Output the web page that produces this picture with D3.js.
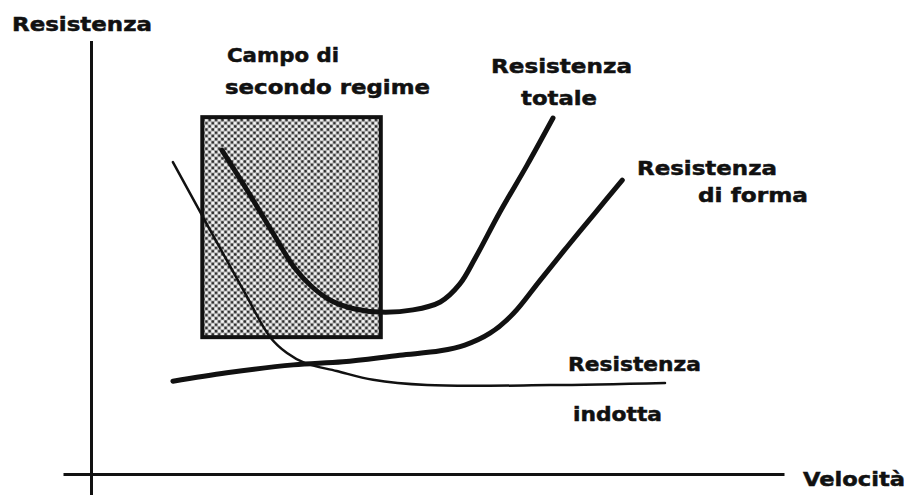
<!DOCTYPE html>
<html>
<head>
<meta charset="utf-8">
<script src="https://cdn.jsdelivr.net/npm/d3@7"></script>
<style>
  html, body { margin: 0; padding: 0; background: #fff; }
  svg { display: block; }
  text { font-family: "DejaVu Sans", sans-serif; font-weight: bold; fill: #111; stroke: #111; stroke-width: 0.5; }
</style>
</head>
<body>
<svg id="chart" width="909" height="495"></svg>
<script>
// ---- Data (schematic: velocity vs resistance, arbitrary units) ----
const inducedVel = [11.7, 17.0, 22.0, 25.6, 28.0, 30.6, 35.1, 40.3, 48.0, 65.6, 82.0];
const inducedRes = [70.9, 55.5, 41.1, 31.1, 27.5, 25.2, 23.4, 21.4, 20.2, 20.2, 20.7];

const formVel = [11.7, 19.4, 28.9, 36.0, 44.1, 49.9, 53.4, 57.0, 60.3, 64.1, 68.0, 72.0, 75.9];
const formRes = [21.1, 23.0, 24.8, 25.5, 27.0, 28.0, 29.3, 32.0, 36.4, 43.9, 51.6, 59.3, 66.8];

const totalVel = [18.7, 22.3, 25.9, 29.1, 31.6, 34.4, 37.7, 41.3, 46.0, 49.9, 52.7, 54.9, 58.4, 62.3, 66.0];
const totalRes = [73.6, 64.5, 55.0, 46.8, 42.5, 39.3, 37.5, 36.8, 37.3, 39.1, 43.2, 49.1, 59.5, 70.2, 80.9];

// second-regime field (velocity range, resistance range)
const regimeVel = [15.9, 41.4];
const regimeRes = [31.1, 81.1];

// texts
const axisTitles = ["Resistenza", "Velocità"];
const regimeLabel = ["Campo di", "secondo regime"];
const totalLabel = ["Resistenza", "totale"];
const formLabel = ["Resistenza", "di forma"];
const inducedLabel = ["Resistenza", "indotta"];

// ---- Drawing ----
const svg = d3.select("#chart");
const x = d3.scaleLinear().domain([-4, 99]).range([63, 784]);
const y = d3.scaleLinear().domain([-5, 98.5]).range([496, 40.6]);

// halftone pattern
const defs = svg.append("defs");
const pat = defs.append("pattern")
  .attr("id", "dots").attr("patternUnits", "userSpaceOnUse")
  .attr("width", 6.4).attr("height", 6.4);
pat.append("rect").attr("width", 6.4).attr("height", 6.4).attr("fill", "#aaaaaa");
[[1.6, 1.6], [4.8, 4.8]].forEach(([cx, cy]) =>
  pat.append("circle").attr("cx", cx).attr("cy", cy).attr("r", 1.35).attr("fill", "#2a2a2a"));
[[4.8, 1.6], [1.6, 4.8]].forEach(([cx, cy]) =>
  pat.append("circle").attr("cx", cx).attr("cy", cy).attr("r", 1.6).attr("fill", "#f6f6f6"));

// axes (no ticks, crossing lines)
const xAxis = d3.axisBottom(x).tickValues([]).tickSizeOuter(0);
const yAxis = d3.axisLeft(y).tickValues([]).tickSizeOuter(0);
svg.append("g").attr("transform", `translate(0,${y(0)})`).call(xAxis)
  .select(".domain").attr("stroke", "#111").attr("stroke-width", 3);
svg.append("g").attr("transform", `translate(${x(0)},0)`).call(yAxis)
  .select(".domain").attr("stroke", "#111").attr("stroke-width", 3);

// regime box
svg.append("rect")
  .attr("x", x(regimeVel[0])).attr("y", y(regimeRes[1]))
  .attr("width", x(regimeVel[1]) - x(regimeVel[0]))
  .attr("height", y(regimeRes[0]) - y(regimeRes[1]))
  .attr("fill", "url(#dots)").attr("stroke", "#111").attr("stroke-width", 4);

const line = d3.line().x(d => x(d[0])).y(d => y(d[1])).curve(d3.curveCatmullRom.alpha(0.5));
const zip = (a, b) => a.map((v, i) => [v, b[i]]);

svg.append("path").datum(zip(inducedVel, inducedRes)).attr("d", line)
  .attr("fill", "none").attr("stroke", "#111").attr("stroke-width", 2.5).attr("stroke-linecap", "round");
svg.append("path").datum(zip(formVel, formRes)).attr("d", line)
  .attr("fill", "none").attr("stroke", "#111").attr("stroke-width", 5).attr("stroke-linecap", "round");
svg.append("path").datum(zip(totalVel, totalRes)).attr("d", line)
  .attr("fill", "none").attr("stroke", "#111").attr("stroke-width", 5).attr("stroke-linecap", "round");

// labels: [text, left px, baseline px, width px]
const labelLayout = [
  [axisTitles[0], 12, 31, 140],
  [axisTitles[1], 803, 486, 102],
  [regimeLabel[0], 227, 62, 112],
  [regimeLabel[1], 225, 94, 205],
  [totalLabel[0], 491, 73, 141],
  [totalLabel[1], 521, 105, 76],
  [formLabel[0], 637, 175, 140],
  [formLabel[1], 698, 202, 110],
  [inducedLabel[0], 568, 371, 133],
  [inducedLabel[1], 573, 421, 89]
];
svg.selectAll("text.lbl").data(labelLayout).join("text")
  .attr("class", "lbl")
  .attr("x", d => d[1]).attr("y", d => d[2])
  .attr("textLength", d => d[3]).attr("lengthAdjust", "spacingAndGlyphs")
  .style("font-size", "20px")
  .text(d => d[0]);
</script>
</body>
</html>
